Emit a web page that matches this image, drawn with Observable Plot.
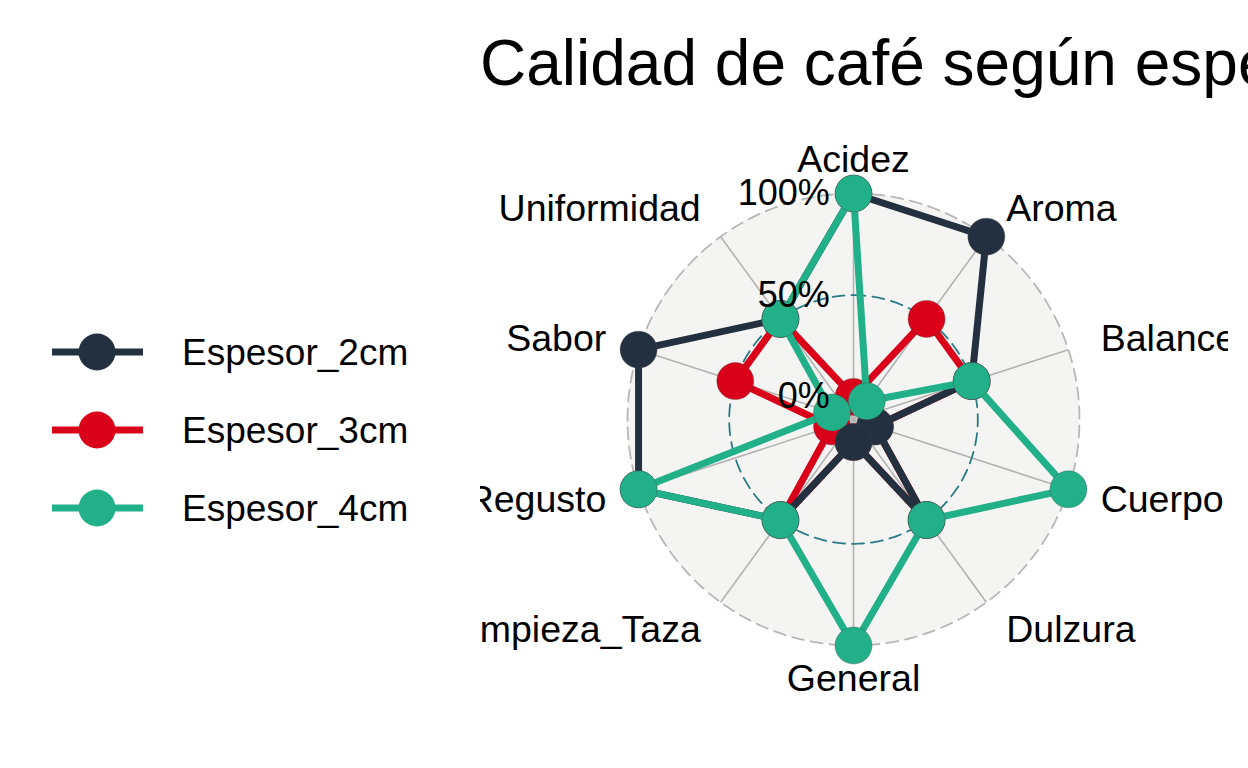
<!DOCTYPE html>
<html><head><meta charset="utf-8">
<script src="https://cdn.jsdelivr.net/npm/d3@7"></script>
<script src="https://cdn.jsdelivr.net/npm/@observablehq/plot@0.6"></script>
<style>
html,body{margin:0;padding:0;background:#fff;overflow:hidden;}
#wrap{position:relative;width:1248px;height:768px;overflow:hidden;font-family:"Liberation Sans",Arial,Helvetica,sans-serif;}
#title{position:absolute;left:480px;top:31px;font-size:64px;line-height:64px;white-space:nowrap;color:#000;}
#chart{position:absolute;left:480px;top:0;width:748px;height:768px;overflow:hidden;}
#chart svg{overflow:hidden;}
#legend{position:absolute;left:0;top:0;}
</style></head><body>
<div id="wrap"><div id="chart"></div><div id="title">Calidad de café según espesor</div><svg id="legend" width="480" height="768"></svg></div>
<script>
const categories = ["Acidez","Aroma","Balance","Cuerpo","Dulzura","General","Limpieza_Taza","Regusto","Sabor","Uniformidad"];
const seriesNames = ["Espesor_2cm","Espesor_3cm","Espesor_4cm"];
const espesor2cm = [1, 1, 0.5, 0, 0.5, 0, 0.5, 1, 1, 0.5];
const espesor3cm = [0, 0.5, 0.5, 0, 0.5, 0, 0.5, 0, 0.5, 0.5];
const espesor4cm = [1, 0, 0.5, 1, 0.5, 1, 0.5, 1, 0, 0.5];
const seriesColors = ["#223040", "#DB0019", "#21B088"];
const gridLevels = [0, 0.5, 1];
const gridLabels = ["0%", "50%", "100%"];
const drawOrder = ["Espesor_3cm", "Espesor_2cm", "Espesor_4cm"];

const seriesValues = {Espesor_2cm: espesor2cm, Espesor_3cm: espesor3cm, Espesor_4cm: espesor4cm};
const centreY = -1/9;
const rad = v => (v - centreY) / (1 - centreY);
const n = categories.length;
const ang = i => 2 * Math.PI * i / n;

const FONT = '"Liberation Sans", Arial, Helvetica, sans-serif';

function ring(r) {
  return d3.range(0, 361, 1).map(d => ({x: r * Math.sin(d * Math.PI / 180), y: r * Math.cos(d * Math.PI / 180)}));
}
const bgData = d3.range(0, 181, 1).map(d => {
  const t = d * Math.PI / 180;
  return {x: -Math.cos(t), y1: -Math.sin(t), y2: Math.sin(t)};
});
const axisData = categories.map((c, i) => ({x1: 0, y1: 0, x2: Math.sin(ang(i)), y2: Math.cos(ang(i))}));
const labelData = categories.map((c, i) => ({name: c, x: 1.15 * Math.sin(ang(i)), y: 1.15 * Math.cos(ang(i)), s: Math.sin(ang(i))}));
const gridLabelData = gridLevels.map((g, i) => ({text: gridLabels[i], x: -0.105, y: rad(g)}));

function seriesPts(name) {
  const vals = seriesValues[name];
  return vals.map((v, i) => ({series: name, x: rad(v) * Math.sin(ang(i)), y: rad(v) * Math.cos(ang(i))}));
}

const marks = [
  Plot.areaY(bgData, {x: "x", y1: "y1", y2: "y2", fill: "#F4F4F2"}),
  Plot.link(axisData, {x1: "x1", y1: "y1", x2: "x2", y2: "y2", stroke: "#B3B3B3", strokeWidth: 1.6}),
  Plot.line(ring(rad(0.5)), {x: "x", y: "y", stroke: "#2A7A86", strokeWidth: 1.8, strokeDasharray: "12,7"}),
  Plot.line(ring(rad(1)), {x: "x", y: "y", stroke: "#B7B7B7", strokeWidth: 1.8, strokeDasharray: "12,7"})
];
for (const s of drawOrder) {
  const pts = seriesPts(s);
  marks.push(Plot.line([...pts, pts[0]], {x: "x", y: "y", stroke: "series", strokeWidth: 7, strokeLinejoin: "round", strokeLinecap: "butt"}));
  marks.push(Plot.dot(pts, {x: "x", y: "y", r: 18.5, fill: "series", stroke: "#4a4a4a", strokeWidth: 0.6, strokeOpacity: 0.6}));
}
marks.push(
  Plot.text(gridLabelData, {x: "x", y: "y", text: "text", textAnchor: "end", fontSize: 36, fill: "#000"}),
  Plot.text(labelData.filter(d => Math.abs(d.s) < 1e-6), {x: "x", y: "y", text: "name", textAnchor: "middle", fontSize: 37.5, fill: "#000"}),
  Plot.text(labelData.filter(d => d.s > 1e-6), {x: "x", y: "y", text: "name", textAnchor: "start", fontSize: 37.5, fill: "#000"}),
  Plot.text(labelData.filter(d => d.s < -1e-6), {x: "x", y: "y", text: "name", textAnchor: "end", fontSize: 37.5, fill: "#000"})
);

const chart = Plot.plot({
  width: 748, height: 768, margin: 0,
  x: {domain: [-373 / 226, 375 / 226], axis: null},
  y: {domain: [-349 / 226, 419 / 226], axis: null},
  color: {domain: seriesNames, range: seriesColors},
  style: {fontFamily: FONT, background: "transparent", overflow: "hidden"},
  marks
});
document.getElementById("chart").appendChild(chart);

// legend
const lg = d3.select("#legend");
const colorOf = d3.scaleOrdinal(seriesNames, seriesColors);
seriesNames.forEach((s, i) => {
  const y = 352 + i * 78;
  const g = lg.append("g");
  g.append("line").attr("x1", 52).attr("x2", 143).attr("y1", y).attr("y2", y)
    .attr("stroke", colorOf(s)).attr("stroke-width", 7);
  g.append("circle").attr("cx", 97).attr("cy", y).attr("r", 18.5).attr("fill", colorOf(s));
  g.append("text").attr("x", 182).attr("y", y).attr("dy", "0.35em")
    .attr("font-family", FONT).attr("font-size", 37).attr("fill", "#000").text(s);
});
</script>
</body></html>
